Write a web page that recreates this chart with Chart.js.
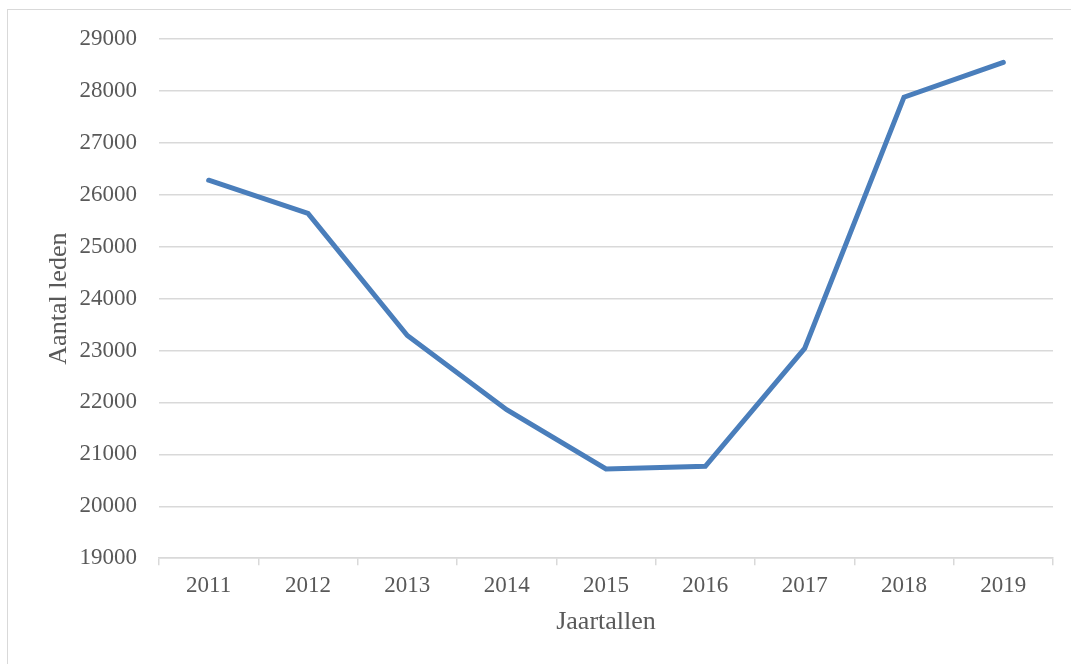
<!DOCTYPE html>
<html>
<head>
<meta charset="utf-8">
<script src="https://cdn.jsdelivr.net/npm/chart.js@4.4.0/dist/chart.umd.min.js"></script>
<style>
  html, body { margin: 0; padding: 0; background: #fff; overflow: hidden; }
  #frame {
    position: absolute; left: 7px; top: 9px; width: 1100px; height: 700px;
    border: 1.5px solid #d9d9d9;
  }
  #myChart { position: absolute; left: 0; top: 0; }
</style>
</head>
<body>
<div id="frame"></div>
<canvas id="myChart" width="1071" height="664"></canvas>
<script>
const jaren = ['2011', '2012', '2013', '2014', '2015', '2016', '2017', '2018', '2019'];
const leden = [26280, 25640, 23290, 21860, 20720, 20770, 23040, 27880, 28550];
const yMin = 19000;
const yMax = 29000;
const yStap = 1000;

const tekstKleur = '#595959';
const rasterKleur = '#d9d9d9';
const serif = "'Liberation Serif', 'Times New Roman', serif";
const tickFont = { family: serif, size: 23 };
const titelFont = { family: serif, size: 26 };

const ctx = document.getElementById('myChart').getContext('2d');
const myChart = new Chart(ctx, {
    type: 'line',
    data: {
        labels: jaren,
        datasets: [{
            label: 'Aantal leden',
            data: leden,
            borderColor: '#4a7ebb',
            backgroundColor: '#4a7ebb',
            borderWidth: 5,
            pointRadius: 0,
            tension: 0,
            borderCapStyle: 'round',
            borderJoinStyle: 'miter',
            fill: false
        }]
    },
    options: {
        responsive: false,
        animation: false,
        devicePixelRatio: 1,
        layout: {
            padding: { left: 40, right: 18, top: 39, bottom: 24 }
        },
        plugins: {
            legend: { display: false },
            tooltip: { enabled: false }
        },
        scales: {
            x: {
                offset: true,
                grid: {
                    offset: true,
                    drawOnChartArea: false,
                    color: rasterKleur,
                    lineWidth: 1.5,
                    tickLength: 7
                },
                border: { color: rasterKleur, width: 1.5 },
                ticks: { color: tekstKleur, font: tickFont, padding: 7, maxRotation: 0 },
                title: {
                    display: true,
                    text: 'Jaartallen',
                    color: tekstKleur,
                    font: titelFont,
                    padding: { top: 0, bottom: 2 }
                }
            },
            y: {
                min: yMin,
                max: yMax,
                grid: { color: rasterKleur, lineWidth: 1.5, drawTicks: false },
                border: { display: false },
                ticks: {
                    stepSize: yStap,
                    color: tekstKleur,
                    font: tickFont,
                    padding: 22,
                    callback: v => String(v)
                },
                title: {
                    display: true,
                    text: 'Aantal leden',
                    color: tekstKleur,
                    font: titelFont,
                    padding: { top: 4, bottom: 0 }
                },
                afterFit: function (scale) {
                    scale.width = 119;
                }
            }
        }
    }
});
</script>
</body>
</html>
